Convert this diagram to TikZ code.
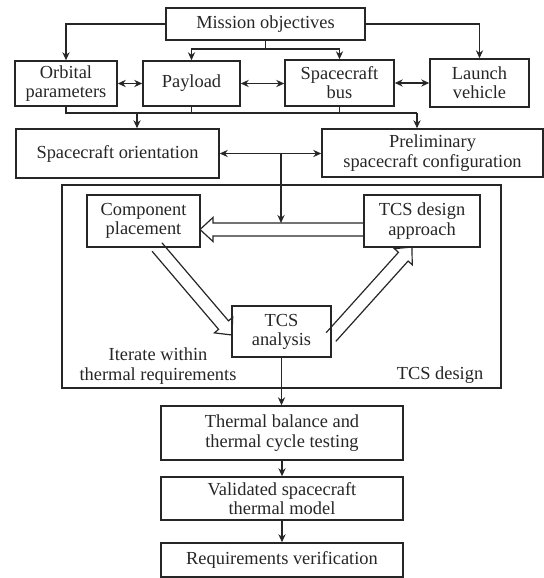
\documentclass[tikz,border=0pt]{standalone}
\usepackage{fontspec}
\setmainfont{Liberation Serif}
\usetikzlibrary{arrows.meta,calc}
\definecolor{ink}{gray}{0.15}
\newcommand\figfont{\fontsize{9.2pt}{9.6pt}\selectfont}
\newcommand\harrow[2]{%
  \draw[ink, line width=0.6pt] let \p1=(#1), \p2=(#2),
    \n1={atan2(\y2-\y1,\x2-\x1)}, \n2={veclen(\x2-\x1,\y2-\y1)} in
    [shift={(\p1)}, rotate=\n1]
    (0pt,-3.25pt) -- ({\n2-6.5pt},-3.25pt) -- ({\n2-6.5pt},-6pt) -- ({\n2+0pt},0pt)
    -- ({\n2-6.5pt},6pt) -- ({\n2-6.5pt},3.25pt) -- (0pt,3.25pt);}
\begin{document}
\begin{tikzpicture}[x=0.5pt,y=-0.5pt,
  box/.style={draw=ink, line width=0.75pt, inner sep=0pt, align=center, font=\figfont, text=ink},
  conn/.style={draw=ink, line width=0.6pt},
  tip/.style={-{Stealth[length=4pt,width=3.6pt]}},
  dtip/.style={{Stealth[length=4pt,width=3.6pt]}-{Stealth[length=4pt,width=3.6pt]}},
  lbl/.style={font=\figfont, align=center, text=ink, inner sep=0pt}]
\useasboundingbox (0,0) rectangle (544,578);
% boxes
\node[box, minimum width=99.5pt, minimum height=16pt] (mis) at (265.5,24) {Mission objectives};
\node[box, minimum width=51pt, minimum height=22.5pt] (orb) at (66,83.5) {Orbital\\parameters};
\node[box, minimum width=48.5pt, minimum height=22.5pt] (pay) at (191.5,83.5) {Payload};
\node[box, minimum width=54.5pt, minimum height=23pt] (bus) at (339.5,83) {Spacecraft\\bus};
\node[box, minimum width=49.5pt, minimum height=24pt] (lau) at (479.5,83) {Launch\\vehicle};
\node[box, minimum width=101.5pt, minimum height=24.5pt] (ori) at (117.5,153.5) {Spacecraft orientation};
\node[box, minimum width=110.5pt, minimum height=24pt] (pre) at (432.5,153) {Preliminary\\spacecraft configuration};
\node[box, minimum width=219.5pt, minimum height=101.5pt] (frame) at (281.5,286.5) {};
\node[box, minimum width=56.5pt, minimum height=26pt] (cmp) at (143.5,221) {Component\\placement};
\node[box, minimum width=58pt, minimum height=26pt] (apr) at (422,221) {TCS design\\approach};
\node[box, minimum width=49.5pt, minimum height=25.5pt] (ana) at (281.5,331.5) {TCS\\analysis};
\node[box, minimum width=121pt, minimum height=27pt] (thb) at (282,433) {Thermal balance and\\thermal cycle testing};
\node[box, minimum width=121pt, minimum height=21.5pt] (val) at (282,498.5) {Validated spacecraft\\thermal model};
\node[box, minimum width=121pt, minimum height=17pt] (req) at (282,560) {Requirements verification};
\node[lbl] (iter) at (158,366) {Iterate within\\thermal requirements};
\node[lbl] (tcsl) at (440,375) {TCS design};
% top connectors
\draw[conn,tip] (mis.west) -| (orb.north);
\draw[conn,tip] (mis.east) -| (lau.north);
\coordinate (mj) at (265.5,49);
\draw[conn] (mis.south) -- (mj);
\draw[conn,tip] (mj) -| (pay.north);
\draw[conn,tip] (mj) -| (bus.north);
\draw[conn,dtip] (orb.east) -- (pay.west);
\draw[conn,dtip] (pay.east) -- (pay.east -| bus.west);
\draw[conn,dtip] (bus.east) -- (lau.west);
% second level
\coordinate (jl) at (137,113);
\coordinate (jr) at (417,113);
\draw[conn] (orb.south) |- (jr);
\draw[conn] (pay.south) -- (pay.south |- jr);
\draw[conn] (bus.south) -- (bus.south |- jr);
\draw[conn,tip] (jl) -- (jl |- ori.north);
\draw[conn,tip] (jr) -- (jr |- pre.north);
\draw[conn,dtip] (ori.east) -- (ori.east -| pre.west);
\coordinate (jv) at (281,153.5);
\coordinate (jh) at (281,223);
\draw[conn,tip] (jv) -- (jh);
% hollow arrows
\coordinate (h1s) at (364,229.5);
\coordinate (h1e) at (200,229.5);
\coordinate (h2s) at (157,247);
\coordinate (h2e) at (232,335);
\coordinate (h3s) at (331,337);
\coordinate (h3e) at (412,247);
\harrow{h1s}{h1e}
\harrow{h2s}{h2e}
\harrow{h3s}{h3e}
% bottom chain
\draw[conn,tip] (ana.south) -- (ana.south |- thb.north);
\draw[conn,tip] (thb.south) -- (val.north);
\draw[conn,tip] (val.south) -- (req.north);
\end{tikzpicture}
\end{document}
